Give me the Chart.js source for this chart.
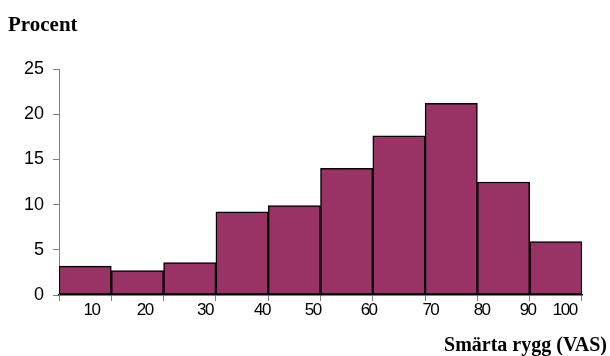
<!DOCTYPE html>
<html>
<head>
<meta charset="utf-8">
<script src="https://cdn.jsdelivr.net/npm/chart.js@4/dist/chart.umd.min.js"></script>
<style>
  html, body { margin: 0; padding: 0; background: #fff; }
  #wrap { width: 610px; height: 356px; position: relative; }
</style>
</head>
<body>
<div id="wrap"><canvas id="c" width="610" height="356"></canvas></div>
<script>
// Data
const categories = ['10', '20', '30', '40', '50', '60', '70', '80', '90', '100'];
const percent = [3.2, 2.7, 3.6, 9.2, 9.9, 14.0, 17.6, 21.2, 12.5, 5.9];
const yTicks = [0, 5, 10, 15, 20, 25];
const yTitle = 'Procent';
const xTitle = 'Smärta rygg (VAS)';
// label shift (fraction of a category width) to mimic the original label placement
const labelShift = [0.12, 0.14, 0.29, 0.38, 0.35, 0.42, 0.60, 0.58, 0.46, 0.17];

const textPlugin = {
  id: 'texts',
  afterDraw(chart) {
    const ctx = chart.ctx;
    const xs = chart.scales.x;
    ctx.save();
    ctx.fillStyle = '#000';
    // x tick labels
    ctx.font = '17px "Liberation Sans", Arial, sans-serif';
    try { ctx.letterSpacing = '-1.5px'; } catch (e) {}
    ctx.textAlign = 'center';
    ctx.textBaseline = 'middle';
    const w = xs.width / categories.length;
    categories.forEach((lab, i) => {
      const x = xs.getPixelForTick(i) + labelShift[i] * w;
      ctx.fillText(lab, x, xs.top + 15);
    });
    try { ctx.letterSpacing = '0px'; } catch (e) {}
    // titles
    ctx.textBaseline = 'alphabetic';
    ctx.font = 'bold 21px "Liberation Serif", "Times New Roman", serif';
    ctx.textAlign = 'left';
    ctx.fillText(yTitle, 8, 31);
    ctx.font = 'bold 20px "Liberation Serif", "Times New Roman", serif';
    ctx.textAlign = 'right';
    ctx.fillText(xTitle, 607, 351);
    ctx.restore();
  }
};

new Chart(document.getElementById('c'), {
  type: 'bar',
  data: {
    labels: categories,
    datasets: [{
      data: percent,
      backgroundColor: '#993366',
      borderColor: '#000000',
      borderWidth: 1.5,
      borderSkipped: false,
      barPercentage: 1.0,
      categoryPercentage: 1.0
    }]
  },
  options: {
    responsive: false,
    animation: false,
    events: [],
    layout: { padding: { left: 0, right: 28, top: 69, bottom: 0 } },
    plugins: { legend: { display: false }, tooltip: { enabled: false }, title: { display: false } },
    scales: {
      x: {
        type: 'category',
        offset: true,
        grid: { display: true, drawOnChartArea: false, drawTicks: true, tickLength: 6, color: '#808080', offset: true },
        border: { display: true, color: '#000000', width: 1.5 },
        ticks: { display: false },
        afterFit(scale) { scale.height = 61; }
      },
      y: {
        min: 0, max: 25,
        afterBuildTicks(scale) { scale.ticks = yTicks.map(v => ({ value: v })); },
        grid: { display: true, drawOnChartArea: false, drawTicks: true, tickLength: 6, color: '#808080' },
        border: { display: true, color: '#808080', width: 1 },
        ticks: {
          padding: 9,
          color: '#000',
          font: { family: '"Liberation Sans", Arial, sans-serif', size: 18 }
        },
        afterFit(scale) { scale.width = 59; }
      }
    }
  },
  plugins: [textPlugin]
});
</script>
</body>
</html>
